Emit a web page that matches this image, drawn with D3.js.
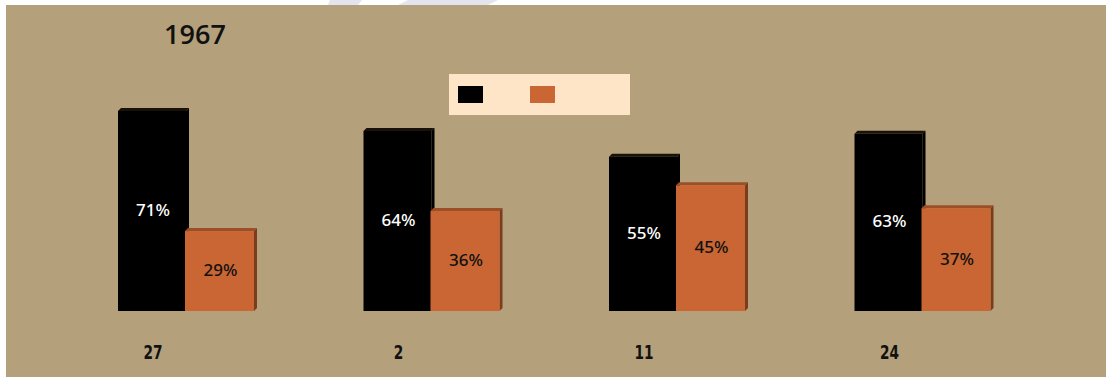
<!DOCTYPE html>
<html>
<head>
<meta charset="utf-8">
<script src="https://cdn.jsdelivr.net/npm/d3@7"></script>
<style>
  html, body { margin: 0; padding: 0; background: #ffffff; }
  svg { display: block; }
</style>
</head>
<body>
<svg id="chart" width="1106" height="379"></svg>
<script>
// Chart data
const title = "1967";
const categories = ["27", "2", "11", "24"];
const seriesKeys = ["first", "second"];
const firstValues = [71, 64, 55, 63];
const secondValues = [29, 36, 45, 37];
const valueSuffix = "%";

const svg = d3.select("#chart");
const W = 1106, H = 379;

// Page backdrop: white strip with faint shapes, then the tan panel
svg.append("rect").attr("width", W).attr("height", H).attr("fill", "#ffffff");
const ghost = svg.append("g").attr("fill", "#e4e4ef");
ghost.append("path").attr("d", "M330,0 L362,0 L358,5 L328,5 Z");
ghost.append("path").attr("d", "M408,0 L498,0 L488,5 L398,5 Z");
svg.append("rect").attr("x", 6).attr("y", 5).attr("width", W - 6).attr("height", 372)
  .attr("fill", "#b4a07a");

// Scales
const y = d3.scaleLinear().domain([0, 100]).range([311, 25]);
const x0 = d3.scaleBand().domain(categories).range([118, 1100]).paddingInner(0).paddingOuter(0);
const x1 = d3.scaleBand().domain(seriesKeys).range([0, 136]);
const bw = x1.bandwidth();
const depth = 3;

const styles = {
  first:  { front: "#000000", top: "#1a1208", side: "#000000", text: "#ffffff", widthAdd: 3, shift: 0 },
  second: { front: "#c96633", top: "#9c4f27", side: "#7a3c1c", text: "#111111", widthAdd: 4, shift: -1 }
};

const rows = categories.map((c, i) => ({
  cat: c,
  vals: [
    { key: "first", v: firstValues[i] },
    { key: "second", v: secondValues[i] }
  ]
}));

const groups = svg.append("g").selectAll("g.grp")
  .data(rows).join("g").attr("class", "grp")
  .attr("transform", d => `translate(${x0(d.cat)},0)`);

const bars = groups.selectAll("g.bar")
  .data(d => d.vals).join("g").attr("class", "bar");

bars.each(function(d) {
  const s = styles[d.key];
  const g = d3.select(this);
  const bx = x1(d.key) + s.shift;
  const w = bw + s.widthAdd - depth;
  const top = y(d.v);
  const base = y(0);
  // top face
  g.append("path")
    .attr("d", `M${bx},${top + depth} L${bx + depth},${top} L${bx + w + depth},${top} L${bx + w},${top + depth} Z`)
    .attr("fill", s.top);
  // side face
  g.append("path")
    .attr("d", `M${bx + w},${top + depth} L${bx + w + depth},${top} L${bx + w + depth},${base - depth} L${bx + w},${base} Z`)
    .attr("fill", s.side);
  // front face
  g.append("rect")
    .attr("x", bx).attr("y", top + depth)
    .attr("width", w).attr("height", base - top - depth)
    .attr("fill", s.front);
  // value label
  g.append("text")
    .attr("x", bx + w / 2 + 1)
    .attr("y", (top + base) / 2 + 2)
    .attr("text-anchor", "middle")
    .attr("dominant-baseline", "middle")
    .attr("font-family", "'Noto Sans', 'Open Sans', sans-serif")
    .attr("font-size", 17)
    .attr("font-weight", 500)
    .attr("fill", s.text)
    .text(d.v + valueSuffix);
});

// Category axis (labels only), centred under the first bar of each group
const xAxis = d3.axisBottom(x0).tickSize(0).tickPadding(0);
const axisG = svg.append("g")
  .attr("transform", `translate(${35 - x0.bandwidth() / 2},0)`)
  .call(xAxis);
axisG.select(".domain").remove();
axisG.selectAll("text")
  .attr("y", 0)
  .attr("dy", 0)
  .attr("transform", "translate(0,359) scale(0.78,1)")
  .attr("fill", "#111111")
  .attr("font-family", "'DejaVu Sans Condensed', 'DejaVu Sans', sans-serif")
  .attr("font-stretch", "condensed")
  .attr("font-size", 19.5)
  .attr("font-weight", "bold");

// Title
svg.append("text")
  .attr("x", 195).attr("y", 37)
  .attr("text-anchor", "middle")
  .attr("dominant-baseline", "middle")
  .attr("font-family", "'Open Sans', 'Noto Sans', sans-serif")
  .attr("font-size", 27)
  .attr("font-weight", 600)
  .attr("fill", "#111111")
  .text(title);

// Legend
const legend = svg.append("g").attr("transform", "translate(449,74)");
legend.append("rect").attr("width", 181).attr("height", 41).attr("fill", "#ffe5c8");
const legendColor = d3.scaleOrdinal().domain(seriesKeys).range([styles.first.front, styles.second.front]);
legend.selectAll("rect.sw")
  .data(seriesKeys).join("rect").attr("class", "sw")
  .attr("x", (d, i) => 9 + i * 72)
  .attr("y", 12)
  .attr("width", 25).attr("height", 17)
  .attr("fill", d => legendColor(d));
</script>
</body>
</html>
